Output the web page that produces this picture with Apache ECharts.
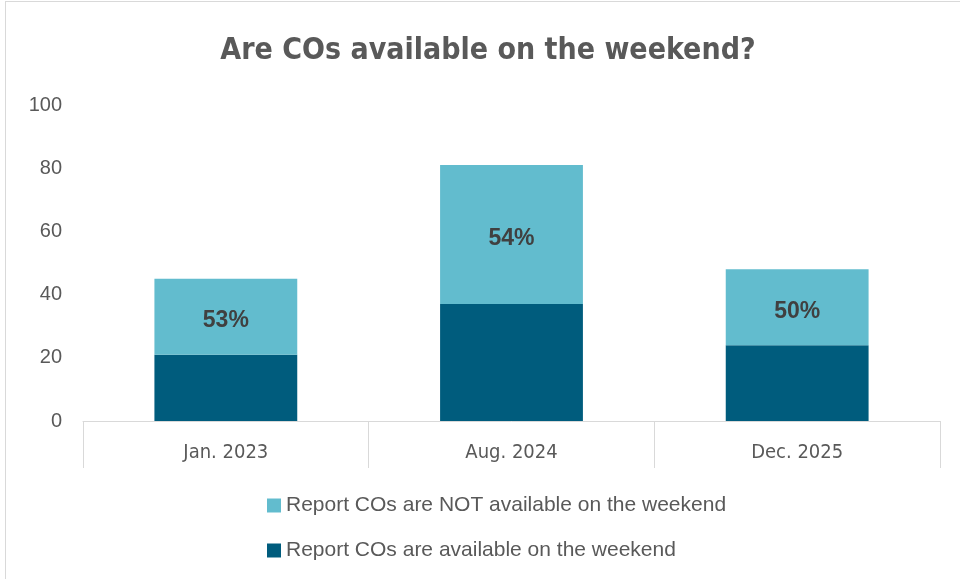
<!DOCTYPE html>
<html>
<head>
<meta charset="utf-8">
<script src="https://cdn.jsdelivr.net/npm/echarts@6/dist/echarts.min.js"></script>
<style>
  html, body { margin: 0; padding: 0; background: #fff; }
  #frame { position: absolute; left: 5px; top: 1px; width: 960px; height: 585px;
           border-left: 1px solid #d9d9d9; border-top: 1px solid #d9d9d9; }
  #chart { position: absolute; left: 0; top: 0; width: 960px; height: 579px; }
</style>
</head>
<body>
<div id="frame"></div>
<div id="chart"></div>
<script>
// Survey waves and counts of respondents
const categories = ['Jan. 2023', 'Aug. 2024', 'Dec. 2025'];
const availableCounts = [21, 37, 24];
const notAvailableCounts = [24, 44, 24];
const yTicks = [0, 20, 40, 60, 80, 100];

const nameAvailable = 'Report COs are available on the weekend';
const nameNotAvailable = 'Report COs are NOT available on the weekend';

const chart = echarts.init(document.getElementById('chart'), null, { renderer: 'canvas' });

const narrow = '"Liberation Sans Narrow", "DejaVu Sans Condensed", "Liberation Sans", sans-serif';
const regular = '"Liberation Sans", "Noto Sans", sans-serif';

chart.setOption({
  backgroundColor: 'transparent',
  animation: false,
  title: {
    text: 'Are COs available on the weekend?',
    left: 483,
    textAlign: 'center',
    top: 31,
    textStyle: { fontFamily: narrow, fontSize: 30, fontWeight: 'bold', color: '#595959' }
  },
  legend: {
    orient: 'vertical',
    left: 262,
    top: 490,
    itemGap: 24,
    itemWidth: 14,
    itemHeight: 14,
    icon: 'rect',
    data: [nameNotAvailable, nameAvailable],
    textStyle: { fontFamily: regular, fontSize: 21, color: '#595959', padding: [0, 0, 0, 0] }
  },
  grid: { left: 83, right: 20, top: 105, bottom: 158, containLabel: false },
  xAxis: {
    type: 'category',
    data: categories,
    axisLine: { lineStyle: { color: '#d9d9d9', width: 1 } },
    axisTick: { show: true, length: 47, lineStyle: { color: '#d9d9d9' } },
    axisLabel: { fontFamily: narrow, fontSize: 20, color: '#595959', margin: 22 }
  },
  yAxis: {
    type: 'value',
    min: yTicks[0],
    max: yTicks[yTicks.length - 1],
    interval: yTicks[1] - yTicks[0],
    axisLine: { show: false },
    axisTick: { show: false },
    splitLine: { show: false },
    axisLabel: { fontFamily: regular, fontSize: 20, color: '#595959', margin: 21 }
  },
  series: [
    {
      name: nameAvailable,
      type: 'bar',
      stack: 'total',
      barWidth: '50%',
      data: availableCounts,
      itemStyle: { color: '#005C7D' }
    },
    {
      name: nameNotAvailable,
      type: 'bar',
      stack: 'total',
      barWidth: '50%',
      data: notAvailableCounts,
      itemStyle: { color: '#62BCCE' },
      label: {
        show: true,
        position: 'inside',
        offset: [0, 4],
        fontFamily: regular,
        fontSize: 23,
        fontWeight: 'bold',
        color: '#404040',
        formatter: (p) => {
          const total = availableCounts[p.dataIndex] + notAvailableCounts[p.dataIndex];
          return Math.round(p.value / total * 100) + '%';
        }
      }
    }
  ]
});
</script>
</body>
</html>
